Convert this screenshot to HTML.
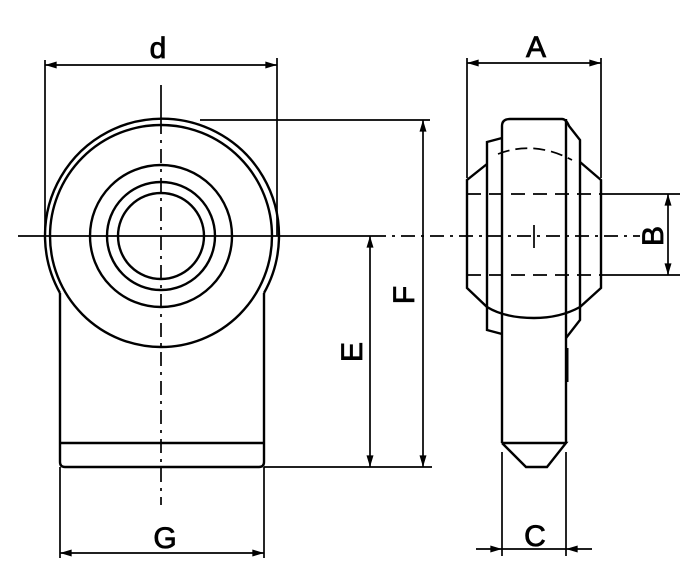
<!DOCTYPE html>
<html><head><style>html,body{margin:0;padding:0;background:#fff}svg{display:block}</style></head>
<body>
<svg width="700" height="584" viewBox="0 0 700 584" xmlns="http://www.w3.org/2000/svg">
<defs>
<marker id="ar" viewBox="0 0 10 6" refX="10" refY="3" markerWidth="13" markerHeight="7" markerUnits="userSpaceOnUse" orient="auto-start-reverse"><path d="M0,0 L10,3 L0,6 z" fill="#000"/></marker>
</defs>
<g fill="none" stroke="#000" stroke-width="2.4">
<path d="M60 293 A117 117 0 1 1 264 293"/>
<circle cx="161" cy="236" r="111"/>
<circle cx="161" cy="236" r="71"/>
<circle cx="161" cy="236" r="54"/>
<circle cx="161" cy="236" r="43"/>
<path d="M60 293 V462 Q60 467 65 467 H259 Q264 467 264 462 V293"/>
<line x1="60" y1="443" x2="264" y2="443"/>
<path d="M502 443 V126 Q502 119 510 119 H562 Q566 119 569 126 L580 140 V320 L566 338"/>
<path d="M566 119 V443"/>
<path d="M502 443 H566 L547 467 H526 L502 443"/>
<path d="M502 138 L487 142 V330 L502 334"/>
<path d="M487 164 L467 180 V288 L487 307 Q505 318 534 318 Q560 318 580 307 L601 288 V180 L580 162"/>
<path d="M567 348 V382" stroke-width="3"/>
</g>
<g fill="none" stroke="#000" stroke-width="1.7">
<path d="M18 236 H372"/>
<path d="M372 236 H640" stroke-dasharray="14 6 3 6"/>
<path d="M161 85 V120"/>
<path d="M161 120 V505" stroke-dasharray="14 6 3 6"/>
<path d="M534 225 V248"/>
<path d="M498 154 Q534 140 572 160" stroke-dasharray="12 6"/>
<path d="M467 194 H600" stroke-dasharray="14 8"/>
<path d="M467 275 H600" stroke-dasharray="14 8"/>
<path d="M45 60 V236"/><path d="M277 58 V236"/>
<path d="M467 58 V178"/><path d="M601 58 V178"/>
<path d="M200 120 H430"/>
<path d="M264 467 H432"/>
<path d="M60 467 V558"/><path d="M264 467 V558"/>
<path d="M502 452 V556"/><path d="M566 452 V556"/>
<path d="M601 194 H680"/><path d="M601 275 H680"/>
<line x1="45" y1="65" x2="277" y2="65" marker-start="url(#ar)" marker-end="url(#ar)"/>
<line x1="467" y1="63" x2="601" y2="63" marker-start="url(#ar)" marker-end="url(#ar)"/>
<line x1="423" y1="120" x2="423" y2="467" marker-start="url(#ar)" marker-end="url(#ar)"/>
<line x1="370" y1="236" x2="370" y2="467" marker-start="url(#ar)" marker-end="url(#ar)"/>
<line x1="60" y1="553" x2="264" y2="553" marker-start="url(#ar)" marker-end="url(#ar)"/>
<line x1="668" y1="194" x2="668" y2="275" marker-start="url(#ar)" marker-end="url(#ar)"/>
<line x1="476" y1="549" x2="502" y2="549" marker-end="url(#ar)"/>
<line x1="592" y1="549" x2="566" y2="549" marker-end="url(#ar)"/>
<line x1="502" y1="549" x2="566" y2="549"/>
</g>
<g font-family="Liberation Sans, sans-serif" font-size="30" text-anchor="middle" fill="#000" stroke="#000" stroke-width="0.8">
<text x="158" y="58">d</text>
<text x="536" y="57">A</text>
<text x="165" y="548">G</text>
<text x="535" y="546">C</text>
<text transform="translate(414 295) rotate(-90)">F</text>
<text transform="translate(362 352) rotate(-90)">E</text>
<text transform="translate(663 236) rotate(-90)">B</text>
</g>
</svg>
</body></html>
